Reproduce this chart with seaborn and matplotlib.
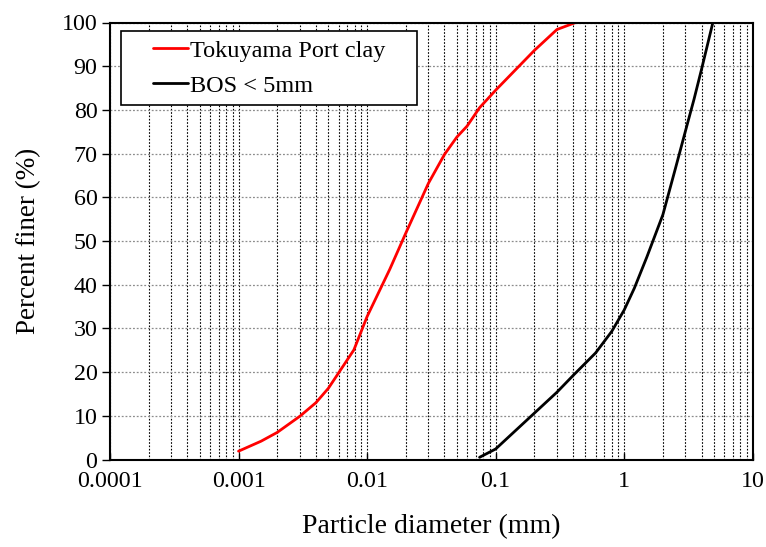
import numpy as np
import pandas as pd
import matplotlib
matplotlib.use("Agg")
import matplotlib.pyplot as plt
from matplotlib.lines import Line2D
from matplotlib.legend_handler import HandlerLine2D
from matplotlib.ticker import LogLocator, FixedLocator, NullFormatter
import seaborn as sns

# Grain size distributions (particle diameter in mm, percent finer in %)
clay_diameter = [0.001, 0.0015, 0.002, 0.003, 0.004, 0.005, 0.006, 0.0079, 0.01,
                 0.015, 0.02, 0.03, 0.04, 0.05, 0.06, 0.075, 0.1, 0.2, 0.3, 0.42]
clay_finer = [1.9, 4.2, 6.2, 9.9, 13.0, 16.3, 19.8, 25.1, 32.7,
              43.5, 51.8, 63.2, 69.8, 73.8, 76.3, 80.5, 84.5, 93.6, 98.4, 100.0]

bos_diameter = [0.075, 0.1, 0.2, 0.3, 0.4, 0.6, 0.8, 1.0, 1.2, 1.5,
                2.0, 2.5, 3.0, 3.5, 4.0, 4.9]
bos_finer = [0.5, 2.4, 10.6, 15.4, 19.2, 24.4, 29.3, 34.2, 39.2, 46.3,
             56.0, 66.5, 75.2, 82.5, 89.3, 100.0]

series_names = ["Tokuyama Port clay", "BOS < 5mm"]
series_colors = ["#ff0000", "#000000"]

x_tick_values = [0.0001, 0.001, 0.01, 0.1, 1, 10]
x_tick_labels = ["0.0001", "0.001", "0.01", "0.1", "1", "10"]
y_tick_values = list(range(0, 101, 10))

df = pd.concat([
    pd.DataFrame({"d": clay_diameter, "p": clay_finer, "s": series_names[0]}),
    pd.DataFrame({"d": bos_diameter, "p": bos_finer, "s": series_names[1]}),
], ignore_index=True)

sns.set_theme(style="white")
plt.rcParams["font.family"] = ["Liberation Serif", "DejaVu Serif"]
plt.rcParams["text.color"] = "black"
plt.rcParams["axes.labelcolor"] = "black"

fig = plt.figure(figsize=(7.66, 5.47), dpi=100)
ax = fig.add_axes([110 / 766, 1 - 459.5 / 547, 642.7 / 766, 437 / 547])

sns.lineplot(data=df, x="d", y="p", hue="s", palette=series_colors,
             hue_order=series_names, sort=False, estimator=None,
             linewidth=2.0, ax=ax, legend=False)

ax.set_xscale("log")
ax.set_xlim(0.0001, 10)
ax.set_ylim(0, 100)

ax.xaxis.set_major_locator(FixedLocator(x_tick_values))
ax.set_xticklabels(x_tick_labels)
ax.xaxis.set_minor_locator(LogLocator(base=10, subs=np.arange(2, 10), numticks=100))
ax.xaxis.set_minor_formatter(NullFormatter())
ax.set_yticks(y_tick_values)

# dotted grid: black verticals on every decade subdivision, grey horizontals
ax.grid(which="both", axis="x", color="black", linestyle=(0, (1.5, 1.5)), linewidth=0.8)
ax.grid(which="major", axis="y", color="#8c8c8c", linestyle=(0, (1.5, 1.5)), linewidth=0.9)
ax.set_axisbelow(True)

ax.tick_params(axis="x", which="major", direction="in", length=5, width=1.0,
               labelsize=17.3, pad=8, bottom=True, top=False, colors="black")
ax.tick_params(axis="x", which="minor", length=0)
ax.tick_params(axis="y", which="major", direction="out", length=6, width=1.0,
               labelsize=17.3, pad=3, left=True, colors="black")

for sp in ax.spines.values():
    sp.set_color("black")
    sp.set_linewidth(1.5)

ax.set_xlabel("Particle diameter (mm)", fontsize=20, labelpad=16, color="black")
ax.set_ylabel("Percent finer (%)", fontsize=19.5, labelpad=15, color="black")


class InsetLineHandler(HandlerLine2D):
    """Legend key drawn only on the right part of the handle box."""

    def create_artists(self, legend, orig_handle, xdescent, ydescent,
                       width, height, fontsize, trans):
        x0 = -xdescent + 0.40 * width
        x1 = -xdescent + width
        y = (height - ydescent) / 2
        line = Line2D([x0, x1], [y, y], color=orig_handle.get_color(),
                      linewidth=orig_handle.get_linewidth())
        line.set_transform(trans)
        return [line]


handles = [Line2D([], [], color=c, linewidth=2.0) for c in series_colors]
top = 1 - (31 - 22.5) / 437
leg = ax.legend(handles, series_names, loc="upper left",
                bbox_to_anchor=(11 / 642.7, 0, 296 / 642.7, top), mode="expand",
                fontsize=17.5, frameon=True, fancybox=False, shadow=False,
                framealpha=1, edgecolor="black", handlelength=2.4,
                handletextpad=0.1, borderpad=0.35, labelspacing=0.55,
                borderaxespad=0, labelcolor="black",
                handler_map={Line2D: InsetLineHandler()})
leg.get_frame().set_linewidth(1.2)

fig.savefig("out.png", dpi=100)
